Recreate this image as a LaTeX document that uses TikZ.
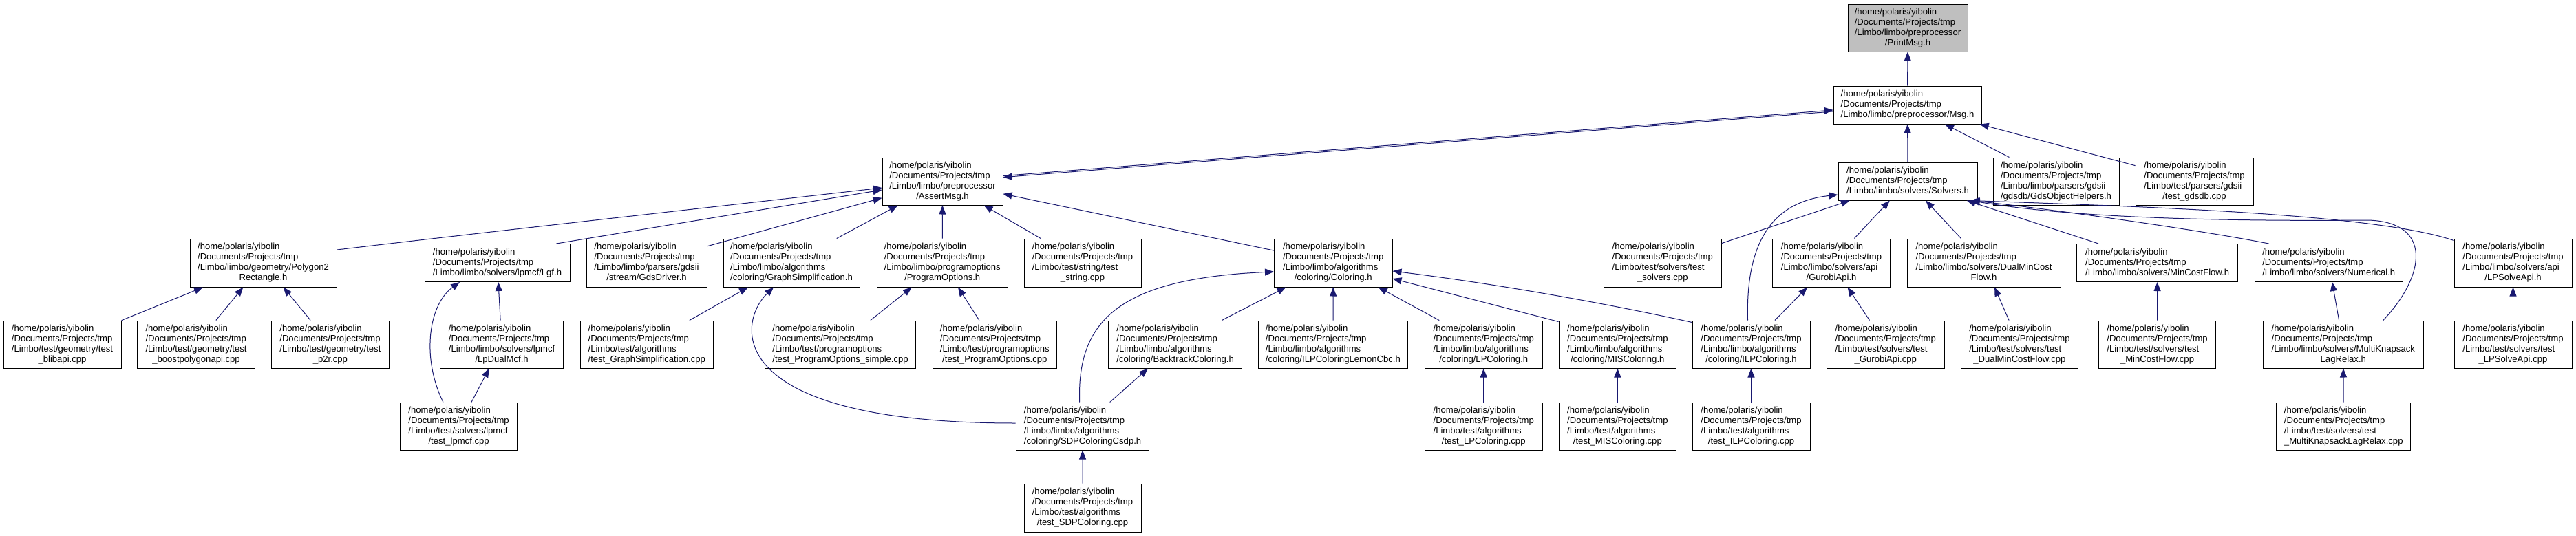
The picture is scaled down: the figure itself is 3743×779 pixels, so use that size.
\documentclass[tikz,border=0pt]{standalone}
\usepackage{fontspec}
\setmainfont{Liberation Sans}
\usetikzlibrary{arrows.meta}
\definecolor{edgec}{RGB}{25,25,112}
\definecolor{hl}{RGB}{191,191,191}
\newcommand\hpath{/home/polaris/yibolin\\/Documents/Projects/tmp\\}
\newcommand\lastc[1]{\multicolumn{1}{@{}c@{}}{#1}}
\newcommand\gnode[7][]{\node[nbox,#1,minimum width={(#4-#2)*1pt},minimum height={(#5-#3)*1pt}] (#6) at ({(#2+#4)/2},{(#3+#5)/2}) {\begin{tabular}{@{}l@{}}\hpath #7\end{tabular}};}
\tikzset{
  nbox/.style={draw=black, fill=white, line width=1pt, inner sep=0pt, font=\fontsize{13.1}{15}\selectfont},
  edge/.style={draw=edgec, line width=1pt, -{Triangle[length=13pt,width=10pt]}}
}
\begin{document}
\begin{tikzpicture}[x=1pt,y=-1pt]
\fill[white] (0,0) rectangle (3743,779);
\useasboundingbox (0,0) rectangle (3743,779);
% row 0-2
\gnode[fill=hl]{2685}{6}{2859}{75}{printmsg}{/Limbo/limbo/preprocessor\\\lastc{/PrintMsg.h}}
\gnode{2664}{125}{2879}{180}{msg}{/Limbo/limbo/preprocessor/Msg.h}
\gnode{1282}{229}{1457}{298}{assert}{/Limbo/limbo/preprocessor\\\lastc{/AssertMsg.h}}
\gnode{2671}{236}{2873}{291}{solvers}{/Limbo/limbo/solvers/Solvers.h}
\gnode{2896}{229}{3079}{298}{gdsobj}{/Limbo/limbo/parsers/gdsii\\\lastc{/gdsdb/GdsObjectHelpers.h}}
\gnode{3103}{229}{3274}{298}{testgdsdb}{/Limbo/test/parsers/gdsii\\\lastc{/test\_gdsdb.cpp}}
% row 3
\gnode{276}{347}{489}{417}{poly}{/Limbo/limbo/geometry/Polygon2\\\lastc{Rectangle.h}}
\gnode{617}{354.5}{828}{409.5}{lgf}{/Limbo/limbo/solvers/lpmcf/Lgf.h}
\gnode{852}{347}{1027}{417}{gdsdriver}{/Limbo/limbo/parsers/gdsii\\\lastc{/stream/GdsDriver.h}}
\gnode{1051}{347}{1249}{417}{graphsimp}{/Limbo/limbo/algorithms\\\lastc{/coloring/GraphSimplification.h}}
\gnode{1274.5}{347}{1464}{417}{progopt}{/Limbo/limbo/programoptions\\\lastc{/ProgramOptions.h}}
\gnode{1488}{347}{1658}{417}{teststring}{/Limbo/test/string/test\\\lastc{\_string.cpp}}
\gnode{1851.5}{347}{2023}{417}{coloring}{/Limbo/limbo/algorithms\\\lastc{/coloring/Coloring.h}}
\gnode{2330.5}{347}{2501}{417}{testsolvers}{/Limbo/test/solvers/test\\\lastc{\_solvers.cpp}}
\gnode{2575.6}{347}{2746.4}{417}{gurobi}{/Limbo/limbo/solvers/api\\\lastc{/GurobiApi.h}}
\gnode{2771}{347}{2994}{417}{dualmcf}{/Limbo/limbo/solvers/DualMinCost\\\lastc{Flow.h}}
\gnode{3017.6}{354.5}{3251.7}{409.5}{mcf}{/Limbo/limbo/solvers/MinCostFlow.h}
\gnode{3276}{354.5}{3491.5}{409.5}{numerical}{/Limbo/limbo/solvers/Numerical.h}
\gnode{3566}{347}{3737}{417}{lpsolve}{/Limbo/limbo/solvers/api\\\lastc{/LPSolveApi.h}}
% row 4
\gnode{5}{466}{176}{535}{testblib}{/Limbo/test/geometry/test\\\lastc{\_blibapi.cpp}}
\gnode{199.7}{466}{370.4}{535}{testboost}{/Limbo/test/geometry/test\\\lastc{\_boostpolygonapi.cpp}}
\gnode{394.5}{466}{565.3}{535}{testp2r}{/Limbo/test/geometry/test\\\lastc{\_p2r.cpp}}
\gnode{639.7}{466}{818.5}{535}{lpdualmcf}{/Limbo/limbo/solvers/lpmcf\\\lastc{/LpDualMcf.h}}
\gnode{843.4}{466}{1036.2}{535}{testgraphsimp}{/Limbo/test/algorithms\\\lastc{/test\_GraphSimplification.cpp}}
\gnode{1111.8}{466}{1330.4}{535}{testpos}{/Limbo/test/programoptions\\\lastc{/test\_ProgramOptions\_simple.cpp}}
\gnode{1355.3}{466}{1535.3}{535}{testpo}{/Limbo/test/programoptions\\\lastc{/test\_ProgramOptions.cpp}}
\gnode{1610.8}{466}{1804.5}{535}{backtrack}{/Limbo/limbo/algorithms\\\lastc{/coloring/BacktrackColoring.h}}
\gnode{1828.2}{466}{2045.6}{535}{ilplemon}{/Limbo/limbo/algorithms\\\lastc{/coloring/ILPColoringLemonCbc.h}}
\gnode{2070.5}{466}{2241}{535}{lpcol}{/Limbo/limbo/algorithms\\\lastc{/coloring/LPColoring.h}}
\gnode{2265}{466}{2435.7}{535}{miscol}{/Limbo/limbo/algorithms\\\lastc{/coloring/MISColoring.h}}
\gnode{2459}{466}{2630}{535}{ilpcol}{/Limbo/limbo/algorithms\\\lastc{/coloring/ILPColoring.h}}
\gnode{2654.4}{466}{2825.1}{535}{testgurobi}{/Limbo/test/solvers/test\\\lastc{\_GurobiApi.cpp}}
\gnode{2849.2}{466}{3019.6}{535}{testdualmcf}{/Limbo/test/solvers/test\\\lastc{\_DualMinCostFlow.cpp}}
\gnode{3049.3}{466}{3219.7}{535}{testmcf}{/Limbo/test/solvers/test\\\lastc{\_MinCostFlow.cpp}}
\gnode{3288.6}{466}{3521}{535}{mk}{/Limbo/limbo/solvers/MultiKnapsack\\\lastc{LagRelax.h}}
\gnode{3566}{466}{3737}{535}{testlpsolve}{/Limbo/test/solvers/test\\\lastc{\_LPSolveApi.cpp}}
% row 5
\gnode{581.4}{585}{751.8}{654}{testlpmcf}{/Limbo/test/solvers/lpmcf\\\lastc{/test\_lpmcf.cpp}}
\gnode{1476.2}{585}{1669.9}{654}{sdp}{/Limbo/limbo/algorithms\\\lastc{/coloring/SDPColoringCsdp.h}}
\gnode{2070.5}{585}{2241}{654}{testlpcol}{/Limbo/test/algorithms\\\lastc{/test\_LPColoring.cpp}}
\gnode{2265}{585}{2435.7}{654}{testmis}{/Limbo/test/algorithms\\\lastc{/test\_MISColoring.cpp}}
\gnode{2459}{585}{2630}{654}{testilp}{/Limbo/test/algorithms\\\lastc{/test\_ILPColoring.cpp}}
\gnode{3307.9}{585}{3502.6}{654}{testmk}{/Limbo/test/solvers/test\\\lastc{\_MultiKnapsackLagRelax.cpp}}
% row 6
\gnode{1488}{703}{1658}{773}{testsdp}{/Limbo/test/algorithms\\\lastc{/test\_SDPColoring.cpp}}
% edges
\draw[edge] (msg) -- (printmsg);
\draw[edge,transform canvas={yshift=1pt}] (assert) -- (msg);
\draw[edge,transform canvas={yshift=-1pt}] (msg) -- (assert);
\draw[edge] (solvers) -- (msg);
\draw[edge] (gdsobj) -- (msg);
\draw[edge] (testgdsdb) -- (msg);
\draw[edge] ([yshift=19pt]poly.east) .. controls (700,338) and (1000,305) .. ([yshift=-9.5pt]assert.west);
\draw[edge] ([xshift=86pt]lgf.north) -- ([yshift=-12.5pt]assert.west);
\draw[edge] (gdsdriver) -- (assert);
\draw[edge] (graphsimp) -- (assert);
\draw[edge] (progopt) -- (assert);
\draw[edge] (teststring) -- (assert);
\draw[edge] (coloring) -- (assert);
\draw[edge] (testsolvers) -- (solvers);
\draw[edge] (gurobi) -- (solvers);
\draw[edge] (dualmcf) -- (solvers);
\draw[edge] (mcf) -- (solvers);
\draw[edge] ([xshift=-5pt]ilpcol.north) .. controls (2536,345) and (2580,293) .. ([yshift=-19.5pt]solvers.west);
\draw[edge] ([xshift=21pt]numerical.north west) .. controls (3200,335) and (2990,305) .. ([xshift=-10pt]solvers.south east);
\draw[edge] ([yshift=-3pt]lpsolve.north west) .. controls (3450,310) and (3100,300) .. ([xshift=-10pt]solvers.south east);
\draw[edge] ([xshift=58pt]mk.north) .. controls (3525,400) and (3535,322) .. (3440,320) .. controls (3200,322) and (3000,315) .. ([xshift=-10pt]solvers.south east);
\draw[edge] (testblib) -- (poly);
\draw[edge] (testboost) -- (poly);
\draw[edge] (testp2r) -- (poly);
\draw[edge] (lpdualmcf) -- (lgf);
\draw[edge] ([xshift=-22.6pt]testlpmcf.north) .. controls (614,525) and (620,445) .. ([xshift=-54.5pt]lgf.south);
\draw[edge] (testlpmcf) -- (lpdualmcf);
\draw[edge] (testgraphsimp) -- (graphsimp);
\draw[edge] ([yshift=4.5pt]sdp.west) .. controls (1050,615) and (1070,470) .. ([xshift=-26pt]graphsimp.south);
\draw[edge] (testpos) -- (progopt);
\draw[edge] (testpo) -- (progopt);
\draw[edge] (backtrack) -- (coloring);
\draw[edge] (ilplemon) -- (coloring);
\draw[edge] (lpcol) -- (coloring);
\draw[edge] ([yshift=33pt]miscol.west) -- ([yshift=-23pt]coloring.east);
\draw[edge] ([yshift=32pt]ilpcol.west) .. controls (2330,440) and (2170,412) .. ([yshift=-12pt]coloring.east);
\draw[edge] ([xshift=-4.4pt]sdp.north) .. controls (1565,470) and (1620,405) .. ([yshift=-13pt]coloring.west);
\draw[edge] (sdp) -- (backtrack);
\draw[edge] (testsdp) -- (sdp);
\draw[edge] (testlpcol) -- (lpcol);
\draw[edge] (testmis) -- (miscol);
\draw[edge] (testilp) -- (ilpcol);
\draw[edge] (ilpcol) -- (gurobi);
\draw[edge] (testgurobi) -- (gurobi);
\draw[edge] (testdualmcf) -- (dualmcf);
\draw[edge] (testmcf) -- (mcf);
\draw[edge] (mk) -- (numerical);
\draw[edge] (testmk) -- (mk);
\draw[edge] (testlpsolve) -- (lpsolve);
\end{tikzpicture}
\end{document}
